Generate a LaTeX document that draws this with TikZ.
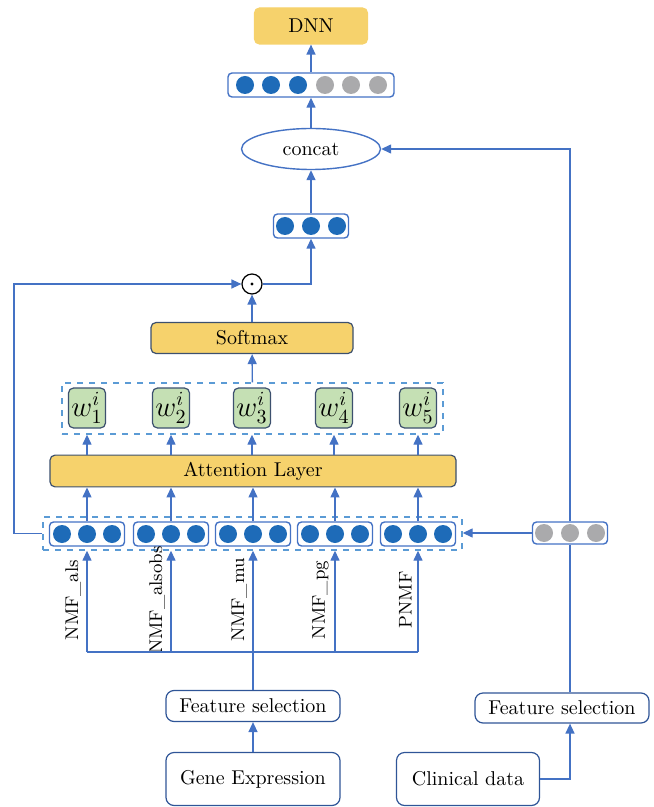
\documentclass[tikz,border=0pt]{standalone}
\usetikzlibrary{arrows.meta,shapes.geometric}
\definecolor{lineblue}{RGB}{68,114,196}
\definecolor{dotblue}{RGB}{30,107,184}
\definecolor{dotgray}{RGB}{170,170,172}
\definecolor{boxyellow}{RGB}{246,210,108}
\definecolor{wgreen}{RGB}{197,224,180}
\definecolor{edgeblue}{RGB}{47,85,151}
\definecolor{edgeslate}{RGB}{60,80,110}
\definecolor{dashblue}{RGB}{91,155,213}

\begin{document}
\begin{tikzpicture}[x=0.5pt, y=-0.5pt,
    flow/.style={draw=lineblue, line width=0.7pt, -{Triangle[length=5pt, width=4.5pt]}},
    wire/.style={draw=lineblue, line width=0.7pt},
    yellowbox/.style={fill=boxyellow, draw=edgeslate, line width=0.6pt, rounded corners=2.5pt, minimum height=15.5pt},
    textbox/.style={draw=edgeblue, line width=0.6pt, rounded corners=4pt, minimum width=87pt},
    vecbox/.style={draw=lineblue, line width=0.7pt, rounded corners=2pt, minimum width=37.5pt, minimum height=12pt},
    dashbox/.style={draw=dashblue, dashed, line width=0.7pt},
    dot/.style={circle, inner sep=0pt, minimum size=9pt},
    wbox/.style={fill=wgreen, draw=edgeslate, line width=0.6pt, rounded corners=2.5pt, minimum width=18.5pt, minimum height=20pt, inner sep=0pt, font=\Large},
    rotlabel/.style={rotate=90, anchor=south, inner sep=1pt, font=\fontsize{9.2}{11}\selectfont}]
    \useasboundingbox (0,0) rectangle (653,807);

    % --- Output part (top)
    \node[yellowbox, draw=boxyellow, minimum width=56.5pt, minimum height=18pt] (dnn) at (311,26) {DNN};
    \node[vecbox, minimum width=83pt] (topvec) at (311,85) {};
    \foreach \x/\c in {245/dotblue, 271/dotblue, 298/dotblue, 325/dotgray, 351/dotgray, 378/dotgray}
        \node[dot, fill=\c] at (\x,85) {};
    \node[ellipse, draw=lineblue, line width=0.7pt, minimum width=69.5pt, minimum height=20.5pt] (concat) at (311,149) {concat};
    \node[vecbox] (midvec) at (311,226) {};
    \foreach \x in {-26, 0, 26}
        \node[dot, fill=dotblue] at (311+\x,226) {};

    \draw[flow] (topvec) -- (dnn);
    \draw[flow] (concat) -- (topvec);
    \draw[flow] (midvec) -- (concat);

    % --- Attention part
    \node[circle, draw, line width=0.6pt, minimum size=10pt, inner sep=0pt] (odot) at (252,284) {};
    \fill (odot.center) circle (0.8pt);
    \node[yellowbox, minimum width=101pt] (soft) at (252,338) {Softmax};
    \node[dashbox, minimum width=190.5pt, minimum height=25.5pt] (wall) at (252.5,408.5) {};
    \foreach \i/\x in {1/87, 2/171, 3/252, 4/334, 5/418}
        \node[wbox] (w\i) at (\x,408) {$w^{i}_{\i}$};
    \node[yellowbox, minimum width=203pt] (att) at (253,471) {Attention Layer};

    \draw[flow] (odot) -| (midvec);
    \draw[flow] (soft) -- (odot);
    \draw[flow] (wall) -- (soft);
    \foreach \i in {1,...,5}
        \draw[flow] (w\i |- att.north) -- (w\i |- wall.south);

    % --- Embedding vectors
    \node[dashbox, minimum width=209.5pt, minimum height=16.5pt] (allvec) at (252.5,533.5) {};
    \foreach \i/\x/\name in {1/87/NMF\_als, 2/171/NMF\_alsobs, 3/253/NMF\_mu, 4/335/NMF\_pg, 5/418/PNMF} {
        \node[vecbox] (v\i) at (\x,534) {};
        \foreach \d in {-25, 0, 25}
            \node[dot, fill=dotblue] at (\x+\d,534) {};
        \draw[flow] (v\i) -- (v\i |- att.south);
        \coordinate (bus\i) at (\x,652);
        \draw[flow] (bus\i) -- (v\i |- allvec.south);
        \node[rotlabel] (lab\i) at (\x-4,600) {\name};
    }
    \draw[wire] (bus1) -- (bus5);

    % loop back to the product
    \coordinate (loop) at (14,533.5);
    \draw[flow] (allvec.west) -- (loop) |- (odot.west);

    % --- Gene expression input
    \node[textbox, minimum height=15.5pt] (fsl) at (253,706) {Feature selection};
    \node[textbox, minimum height=26.5pt] (gene) at (253,779) {Gene Expression};
    \draw[wire] (fsl) -- (fsl |- bus3);
    \draw[flow] (gene) -- (fsl);

    % --- Clinical input (right)
    \node[vecbox, minimum height=11pt] (grayvec) at (570,533) {};
    \foreach \d in {-26, 0, 26}
        \node[dot, fill=dotgray] at (570+\d,533) {};
    \node[textbox, minimum height=15pt] (fsr) at (562,708) {Feature selection};
    \node[textbox, minimum width=71.5pt, minimum height=26.5pt] (clin) at (468,779) {Clinical data};

    \draw[flow] (grayvec) -- (grayvec -| allvec.east);
    \draw[flow] (grayvec.north) |- (concat.east);
    \draw[wire] (grayvec |- fsr.north) -- (grayvec.south);
    \draw[flow] (clin.east) -| (grayvec |- fsr.south);
\end{tikzpicture}
\end{document}
